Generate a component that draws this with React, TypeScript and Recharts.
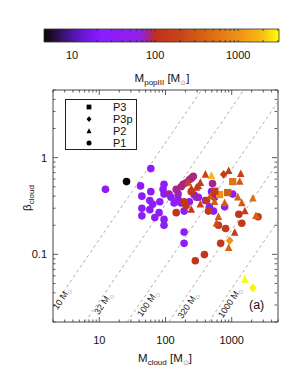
import React from "react";
import { ScatterChart, Scatter, XAxis, YAxis, ReferenceLine, ReferenceArea, Legend } from "recharts";

const FONT = "'Liberation Sans Narrow', 'Liberation Sans', Arial, sans-serif";
const AXIS = "#333";

// colour map: log10(M_popIII) -> colour
const CMAP_LOG = [0.66, 0.85, 1.0, 1.2, 1.35, 1.82, 1.92, 2.0, 2.3, 2.6, 3.0, 3.3, 3.49];
const CMAP_COL = ["#0c0408", "#30105a", "#5214a8", "#7416e6", "#8a1cff", "#9420e8", "#a8248e", "#c0301c", "#c84418", "#d86414", "#f09014", "#f8c014", "#ffff00"];

const CBAR_DOMAIN = [4.6, 3100];
const CBAR_TICKS = [5, 6, 7, 8, 9, 10, 20, 30, 40, 50, 60, 70, 80, 90, 100, 200, 300, 400, 500, 600, 700, 800, 900, 1000, 2000, 3000];
const CBAR_MAJOR = [10, 100, 1000];

const X_DOMAIN = [2, 5000];
const X_TICKS = [2, 3, 4, 5, 6, 7, 8, 9, 10, 20, 30, 40, 50, 60, 70, 80, 90, 100, 200, 300, 400, 500, 600, 700, 800, 900, 1000, 2000, 3000, 4000, 5000];
const X_MAJOR = [10, 100, 1000];
const Y_DOMAIN = [0.02, 5];
const Y_TICKS = [0.02, 0.03, 0.04, 0.05, 0.06, 0.07, 0.08, 0.09, 0.1, 0.2, 0.3, 0.4, 0.5, 0.6, 0.7, 0.8, 0.9, 1, 2, 3, 4, 5];
const Y_MAJOR = [0.1, 1];

// dashed lines of constant M_popIII: M_cloud / beta along each
const CONTOUR_NAMES = ["10", "32", "100", "320", "1000"];
const CONTOUR_RATIO = [70, 305, 1320, 5600, 22500];
const CONTOUR_LABEL_M = [2.72, 11.5, 54, 220, 940];
const CONTOUR_LABEL_B = [0.0352, 0.0313, 0.0313, 0.0298, 0.032];

// P1 (circles)
const P1_M = [25.8, 12.4, 60, 42, 44, 60, 58, 44, 64, 58, 44, 80, 69, 95, 95, 82, 95, 92, 95, 113, 121, 135, 155, 172, 191, 191, 191, 229, 272, 313, 495, 401, 461, 531, 782, 1035, 145, 172, 185, 205, 229, 245, 263, 155, 513, 550, 293, 145, 245, 205, 191, 415, 445, 1280, 1420, 2500, 630, 810, 680, 387, 282];
const P1_B = [0.565, 0.47, 0.77, 0.51, 0.4, 0.445, 0.36, 0.3, 0.33, 0.29, 0.25, 0.27, 0.24, 0.23, 0.2, 0.35, 0.53, 0.47, 0.42, 0.42, 0.39, 0.34, 0.37, 0.34, 0.28, 0.17, 0.13, 0.35, 0.41, 0.39, 0.445, 0.36, 0.31, 0.28, 0.31, 0.42, 0.47, 0.5, 0.53, 0.55, 0.59, 0.61, 0.64, 0.42, 0.54, 0.39, 0.39, 0.27, 0.445, 0.32, 0.35, 0.36, 0.28, 0.26, 0.21, 0.245, 0.2, 0.185, 0.13, 0.0995, 0.086];
const P1_POP = [4, 28, 28, 28, 28, 28, 30, 28, 30, 32, 28, 30, 55, 30, 28, 30, 30, 30, 32, 80, 32, 30, 30, 30, 30, 30, 30, 32, 30, 30, 30, 30, 30, 30, 45, 32, 82, 85, 85, 85, 85, 85, 85, 75, 82, 82, 75, 120, 120, 125, 120, 130, 130, 125, 130, 130, 125, 140, 125, 125, 125];

// P2 (triangles)
const P2_M = [401, 495, 900, 1370, 1320, 336, 313, 292, 218, 245, 550, 782, 1236, 1420, 2090, 336, 1580, 2320, 590, 630, 1110, 900, 1580, 245, 477];
const P2_B = [0.67, 0.65, 0.73, 0.68, 0.565, 0.55, 0.51, 0.49, 0.556, 0.48, 0.35, 0.34, 0.39, 0.34, 0.38, 0.33, 0.28, 0.25, 0.21, 0.245, 0.168, 0.117, 0.055, 0.29, 0.4];
const P2_POP = [200, 1700, 150, 170, 300, 150, 150, 140, 200, 140, 350, 350, 380, 320, 500, 200, 150, 380, 250, 320, 140, 380, 3000, 130, 280];

// P3p (diamonds)
const P3P_M = [755, 933, 2090];
const P3P_B = [0.67, 0.139, 0.045];
const P3P_POP = [150, 1000, 2800];

// P3 (squares)
const P3_M = [1035, 656, 868, 556];
const P3_B = [0.565, 0.415, 0.435, 0.45];
const P3_POP = [550, 1000, 350, 150];

const LEGEND_NAMES = ["P3", "P3p", "P2", "P1"];
const LEGEND_KINDS = ["square", "diamond", "triangle", "circle"];

const rows = (m: number[], b: number[], p: number[]) => m.map((v, i) => ({ m: v, b: b[i], pop: p[i] }));
const p1 = rows(P1_M, P1_B, P1_POP);
const p2 = rows(P2_M, P2_B, P2_POP);
const p3p = rows(P3P_M, P3P_B, P3P_POP);
const p3 = rows(P3_M, P3_B, P3_POP);
const contourLabels = CONTOUR_NAMES.map((n, i) => ({ m: CONTOUR_LABEL_M[i], b: CONTOUR_LABEL_B[i], name: n }));
const cbarAnchors = CBAR_MAJOR.map((v) => ({ v, y: 0.5 }));

const hexRgb = (h: string) => [1, 3, 5].map((i) => parseInt(h.slice(i, i + 2), 16));
function cmap(pop: number) {
  const l = Math.log10(pop);
  if (l <= CMAP_LOG[0]) return CMAP_COL[0];
  for (let i = 1; i < CMAP_LOG.length; i++) {
    if (l <= CMAP_LOG[i]) {
      const t = (l - CMAP_LOG[i - 1]) / (CMAP_LOG[i] - CMAP_LOG[i - 1]);
      const a = hexRgb(CMAP_COL[i - 1]);
      const b = hexRgb(CMAP_COL[i]);
      return `rgb(${a.map((v, k) => Math.round(v + (b[k] - v) * t)).join(",")})`;
    }
  }
  return CMAP_COL[CMAP_COL.length - 1];
}

// plot edges in px (from chart size and margins)
const PL = 53, PR = 277, PT = 90, PB = 322;
const CL = 44, CR = 279, CT = 29, CB = 42;

function marker(kind: string, cx: number, cy: number, s: number, fill: string) {
  if (kind === "circle") return <circle cx={cx} cy={cy} r={s} fill={fill} />;
  if (kind === "square") return <rect x={cx - s * 0.95} y={cy - s * 0.95} width={s * 1.9} height={s * 1.9} fill={fill} />;
  if (kind === "diamond")
    return <polygon points={`${cx},${cy - s * 1.15} ${cx + s},${cy} ${cx},${cy + s * 1.15} ${cx - s},${cy}`} fill={fill} />;
  return <polygon points={`${cx},${cy - s * 1.15} ${cx + s},${cy + s * 0.85} ${cx - s},${cy + s * 0.85}`} fill={fill} />;
}

const shapeFor = (kind: string) => (p: any) => {
  if (p.cx == null || p.cy == null) return <g />;
  return marker(kind, p.cx, p.cy, 3.8, cmap(p.payload.pop));
};

function XTick(props: any) {
  const { x, payload } = props;
  const v = payload.value;
  const major = X_MAJOR.includes(v);
  const len = major ? 5 : 2.5;
  return (
    <g>
      <line x1={x} x2={x} y1={PB} y2={PB - len} stroke={AXIS} strokeWidth={0.8} />
      <line x1={x} x2={x} y1={PT} y2={PT + len} stroke={AXIS} strokeWidth={0.8} />
      {major && (
        <text x={x} y={344} textAnchor="middle" fontSize={11} fontFamily={FONT} fill="#111">
          {v}
        </text>
      )}
    </g>
  );
}

function YTick(props: any) {
  const { y, payload } = props;
  const v = payload.value;
  const major = Y_MAJOR.includes(v);
  const len = major ? 5 : 2.5;
  return (
    <g>
      <line x1={PL} x2={PL + len} y1={y} y2={y} stroke={AXIS} strokeWidth={0.8} />
      <line x1={PR} x2={PR - len} y1={y} y2={y} stroke={AXIS} strokeWidth={0.8} />
      {major && (
        <text x={PL - 6} y={y + 4} textAnchor="end" fontSize={11} fontFamily={FONT} fill="#111">
          {v}
        </text>
      )}
    </g>
  );
}

function CbarTick(props: any) {
  const { x, payload } = props;
  const v = payload.value;
  const major = CBAR_MAJOR.includes(v);
  return (
    <g>
      <line x1={x} x2={x} y1={CB} y2={CB - 2} stroke="#222" strokeWidth={0.7} />
      <line x1={x} x2={x} y1={CT} y2={CT + 2} stroke="#222" strokeWidth={0.7} />
      {major && (
        <text x={x} y={59} textAnchor="middle" fontSize={11} fontFamily={FONT} fill="#111">
          {v}
        </text>
      )}
    </g>
  );
}

const XTitle = () => (
  <text x={165} y={362} textAnchor="middle" fontSize={11.5} fontFamily={FONT} fill="#111">
    M<tspan fontSize={8} dy={3}>cloud</tspan>
    <tspan dy={-3}> [M</tspan>
    <tspan fontSize={7} dy={3} fill="#999">⊙</tspan>
    <tspan dy={-3}>]</tspan>
  </text>
);

const YTitle = () => (
  <text transform="translate(31,198) rotate(-90)" textAnchor="middle" fontSize={11.5} fontFamily={FONT} fill="#111">
    β<tspan fontSize={8} dy={3}>cloud</tspan>
  </text>
);

const CbarTitle = () => (
  <text x={162} y={82} textAnchor="middle" fontSize={11.5} fontFamily={FONT} fill="#111">
    M<tspan fontSize={8} dy={3}>popIII</tspan>
    <tspan dy={-3}> [M</tspan>
    <tspan fontSize={7} dy={3} fill="#999">⊙</tspan>
    <tspan dy={-3}>]</tspan>
  </text>
);

const ContourLabel = (p: any) => {
  if (p.cx == null) return <g />;
  return (
    <text
      transform={`translate(${p.cx},${p.cy}) rotate(-56)`}
      textAnchor="middle"
      dy={3}
      fontSize={9}
      fontFamily={FONT}
      fill="#222"
    >
      {p.payload.name} M<tspan fontSize={6} dy={2} fill="#aaa">⊙</tspan>
    </text>
  );
};

const LegendBox = () => (
  <svg width={72} height={51} style={{ display: "block" }}>
    <rect x={0.5} y={0.5} width={71} height={50} fill="#fff" stroke="#222" strokeWidth={1} />
    {LEGEND_NAMES.map((n, i) => (
      <g key={n}>
        {marker(LEGEND_KINDS[i], 24, 8 + 12 * i, 2.5, "#000")}
        <text x={48} y={12 + 12 * i} fontSize={11} fontFamily={FONT} fill="#111">
          {n}
        </text>
      </g>
    ))}
  </svg>
);

const LMIN = Math.log10(CBAR_DOMAIN[0]);
const LMAX = Math.log10(CBAR_DOMAIN[1]);

export default function App() {
  return (
    <div style={{ position: "absolute", left: 0, top: 0, width: 300, height: 375, background: "#fff" }}>
      <div style={{ position: "absolute", left: 0, top: 0 }}>
        <ScatterChart width={300} height={375} margin={{ top: PT, right: 300 - PR - 1, bottom: 375 - PB - 1, left: PL - 1 }}>
          <XAxis
            type="number"
            dataKey="m"
            scale="log"
            domain={X_DOMAIN}
            ticks={X_TICKS}
            interval={0}
            height={1}
            axisLine={false}
            tickLine={false}
            tick={<XTick />}
            allowDataOverflow
            label={<XTitle />}
          />
          <YAxis
            type="number"
            dataKey="b"
            scale="log"
            domain={Y_DOMAIN}
            ticks={Y_TICKS}
            interval={0}
            width={1}
            axisLine={false}
            tickLine={false}
            tick={<YTick />}
            allowDataOverflow
            label={<YTitle />}
          />
          {CONTOUR_RATIO.map((r, i) => {
            const m0 = Math.max(X_DOMAIN[0], r * Y_DOMAIN[0]);
            const m1 = Math.min(X_DOMAIN[1], r * Y_DOMAIN[1]);
            return (
              <ReferenceLine
                key={CONTOUR_NAMES[i]}
                segment={[
                  { x: m0, y: m0 / r },
                  { x: m1, y: m1 / r },
                ]}
                stroke="#999"
                strokeWidth={0.8}
                strokeDasharray="3 3"
                ifOverflow="visible"
              />
            );
          })}
          <Scatter data={contourLabels} shape={ContourLabel} isAnimationActive={false} />
          <Scatter data={p1} shape={shapeFor("circle")} isAnimationActive={false} />
          <Scatter data={p2} shape={shapeFor("triangle")} isAnimationActive={false} />
          <Scatter data={p3p} shape={shapeFor("diamond")} isAnimationActive={false} />
          <Scatter data={p3} shape={shapeFor("square")} isAnimationActive={false} />
          <ReferenceArea
            x1={X_DOMAIN[0]}
            x2={X_DOMAIN[1]}
            y1={Y_DOMAIN[0]}
            y2={Y_DOMAIN[1]}
            fill="none"
            stroke="#444"
            strokeWidth={1}
            ifOverflow="visible"
          />
          <Legend
            layout="horizontal"
            verticalAlign="middle"
            align="center"
            content={<LegendBox />}
            wrapperStyle={{ left: 65, top: 99, width: 72, height: 51 }}
          />
        </ScatterChart>
      </div>
      <div style={{ position: "absolute", left: 0, top: 0 }}>
        <ScatterChart width={300} height={90} margin={{ top: CT, right: 300 - CR, bottom: 90 - CB - 1, left: CL }}>
          <defs>
            <linearGradient id="popGrad" x1="0" y1="0" x2="1" y2="0">
              {CMAP_LOG.map((l, i) => (
                <stop
                  key={i}
                  offset={Math.min(1, Math.max(0, (l - LMIN) / (LMAX - LMIN)))}
                  stopColor={CMAP_COL[i]}
                />
              ))}
            </linearGradient>
          </defs>
          <XAxis
            type="number"
            dataKey="v"
            scale="log"
            domain={CBAR_DOMAIN}
            ticks={CBAR_TICKS}
            interval={0}
            height={1}
            axisLine={false}
            tickLine={false}
            tick={<CbarTick />}
            allowDataOverflow
            label={<CbarTitle />}
          />
          <YAxis type="number" dataKey="y" domain={[0, 1]} hide />
          <ReferenceArea
            x1={CBAR_DOMAIN[0]}
            x2={CBAR_DOMAIN[1]}
            y1={0}
            y2={1}
            fill="url(#popGrad)"
            fillOpacity={1}
            stroke="#333"
            strokeWidth={0.8}
            ifOverflow="visible"
          />
          <Scatter data={cbarAnchors} shape={() => <g />} isAnimationActive={false} />
        </ScatterChart>
      </div>
      <div style={{ position: "absolute", left: 249, top: 298, fontFamily: FONT, fontSize: 12.5, color: "#111" }}>(a)</div>
    </div>
  );
}
